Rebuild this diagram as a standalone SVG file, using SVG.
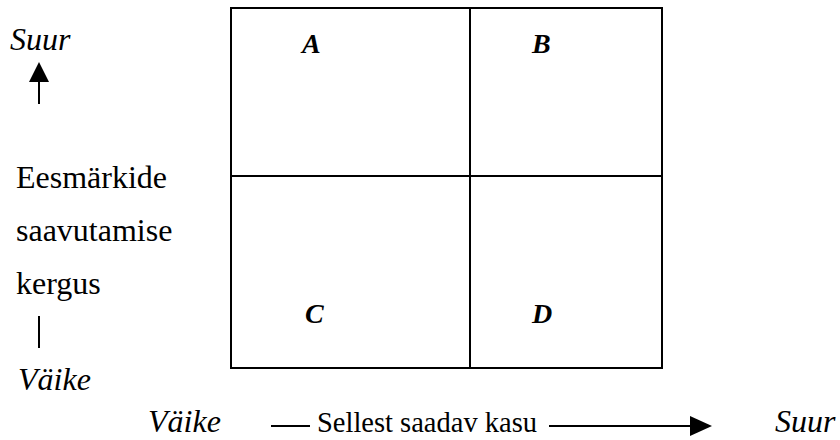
<svg xmlns="http://www.w3.org/2000/svg" width="840" height="440" viewBox="0 0 840 440">
<style>
  text { font-family: "Liberation Serif", "Times New Roman", serif; font-size: 32px; fill: #000; }
  .it { font-style: italic; }
  .bi { font-style: italic; font-weight: bold; font-size: 28px; }
  .sm { font-size: 28.5px; }
  .ln { stroke: #000; stroke-width: 2; fill: none; }
</style>
<rect width="840" height="440" fill="#fff"/>
<g id="grid">
  <rect x="231" y="8" width="431" height="360" class="ln"/>
  <line x1="470" y1="8" x2="470" y2="368" class="ln"/>
  <line x1="231" y1="176" x2="662" y2="176" class="ln"/>
</g>
<g id="cellA"><text x="302" y="53" class="bi">A</text></g>
<g id="cellB"><text x="532" y="53" class="bi">B</text></g>
<g id="cellC"><text x="305" y="323" class="bi">C</text></g>
<g id="cellD"><text x="532" y="323" class="bi">D</text></g>
<g id="yaxis">
  <text x="10" y="50" class="it" font-size="31">Suur</text>
  <text x="16" y="188">Eesmärkide</text>
  <text x="16" y="241">saavutamise</text>
  <text x="16" y="294">kergus</text>
  <text x="18" y="390" class="it" font-size="31">Väike</text>
</g>
<g id="xaxis">
  <text x="148" y="432" class="it">Väike</text>
  <text x="317" y="432" class="sm">Sellest saadav kasu</text>
  <text x="775" y="432" class="it">Suur</text>
</g>
<g id="connectors">
  <line x1="39" y1="104" x2="39" y2="82" class="ln"/>
  <path d="M29,82 L39,62 L49,82 Z" fill="#000"/>
  <line x1="39" y1="316" x2="39" y2="348" class="ln"/>
  <line x1="271" y1="426" x2="310" y2="426" class="ln"/>
  <line x1="549" y1="426" x2="690" y2="426" class="ln"/>
  <path d="M690,416 L712,426 L690,436 Z" fill="#000"/>
</g>
</svg>
